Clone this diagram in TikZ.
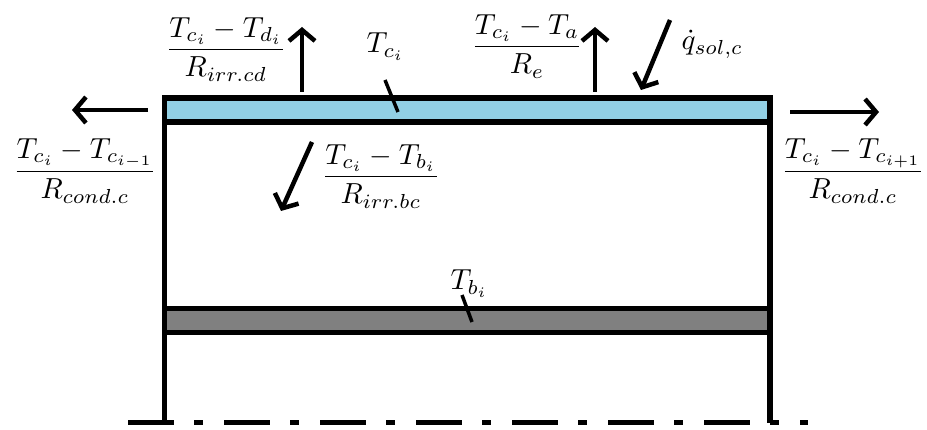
\documentclass[tikz,border=0pt]{standalone}
\usetikzlibrary{arrows.meta}
\definecolor{coverblue}{RGB}{146,208,228}
\definecolor{absgray}{RGB}{128,128,128}
\tikzset{
  wall/.style={line width=5.5pt},
  axisline/.style={line width=5pt, dash pattern=on 46pt off 20pt on 9pt off 21pt},
  flux/.style={line width=4.5pt, -{Straight Barb[length=11pt,width=26pt]}},
  tickline/.style={line width=3.5pt},
  lbl/.style={scale=2.9, inner sep=0pt, anchor=base},
}
\begin{document}
\begin{tikzpicture}[x=1pt,y=-1pt]
\useasboundingbox (0,0) rectangle (927,430);
% structure
\coordinate (tl) at (164.5,98);  \coordinate (tr) at (770,98);
\coordinate (bl) at (164.5,423); \coordinate (br) at (770,423);
\draw[wall] (tl) -- (bl);
\draw[wall] (tr) -- (br);
\draw[wall, fill=coverblue] (164.5,98) rectangle (770,122);
\draw[wall, fill=absgray] (164.5,308.5) rectangle (770,332.5);
\coordinate (ax1) at (128,423); \coordinate (ax2) at (808,423);
\draw[axisline] (ax1) -- (ax2);
% labels
\node[lbl] (fcd) at (226,57) {$\displaystyle\frac{T_{c_i}-T_{d_i}}{R_{irr.cd}}$};
\node[lbl] (fe) at (527,54) {$\displaystyle\frac{T_{c_i}-T_a}{R_e}$};
\node[lbl] (fl) at (85,179) {$\displaystyle\frac{T_{c_i}-T_{c_{i-1}}}{R_{cond.c}}$};
\node[lbl] (fr) at (853,179) {$\displaystyle\frac{T_{c_i}-T_{c_{i+1}}}{R_{cond.c}}$};
\node[lbl] (fbc) at (381,184) {$\displaystyle\frac{T_{c_i}-T_{b_i}}{R_{irr.bc}}$};
\node[lbl, anchor=base west] (tc) at (366,53) {$T_{c_i}$};
\node[lbl, anchor=base west] (tb) at (450,290) {$T_{b_i}$};
\node[lbl, anchor=base west] (qs) at (681,50) {$\dot q_{sol,c}$};
% flux arrows
\coordinate (a1s) at (302,92); \coordinate (a1e) at (302,27);
\coordinate (a2s) at (595,92); \coordinate (a2e) at (595,27);
\coordinate (a3s) at (670,20); \coordinate (a3e) at (641,90);
\coordinate (a4s) at (312,142); \coordinate (a4e) at (281,211);
\coordinate (a5s) at (148,110); \coordinate (a5e) at (72,110);
\coordinate (a6s) at (790,112); \coordinate (a6e) at (879,112);
\draw[flux] (a1s) -- (a1e);
\draw[flux] (a2s) -- (a2e);
\draw[flux] (a3s) -- (a3e);
\draw[flux] (a4s) -- (a4e);
\draw[flux] (a5s) -- (a5e);
\draw[flux] (a6s) -- (a6e);
% temperature ticks
\coordinate (t1s) at (385,80); \coordinate (t1e) at (398,112);
\coordinate (t2s) at (462,295); \coordinate (t2e) at (472,322);
\draw[tickline] (t1s) -- (t1e);
\draw[tickline] (t2s) -- (t2e);
\end{tikzpicture}
\end{document}
